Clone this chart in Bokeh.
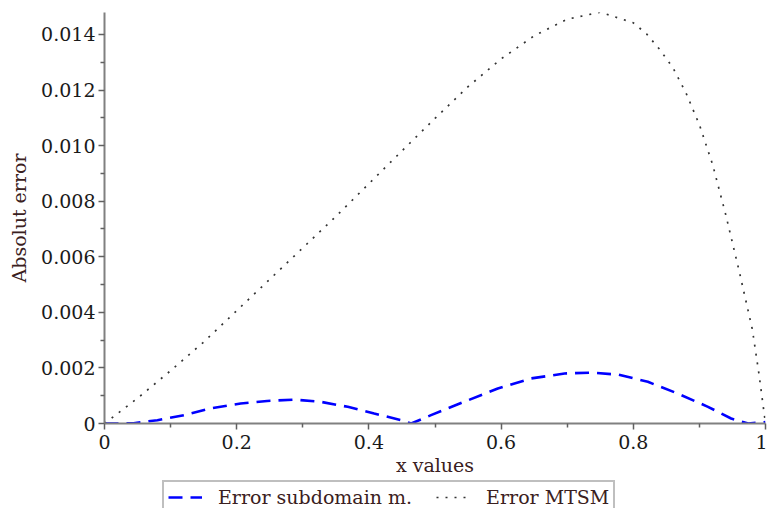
from bokeh.plotting import figure
from bokeh.layouts import column
from bokeh.models import Range1d, FixedTicker, Legend, LegendItem
from bokeh.embed import file_html
from bokeh.resources import INLINE

# ---- data ----
x_mtsm = [0, 0.05, 0.10, 0.15, 0.20, 0.25, 0.30, 0.35, 0.40, 0.45, 0.50, 0.55, 0.60,
          0.65, 0.70, 0.75, 0.80, 0.82, 0.84, 0.86, 0.88, 0.90, 0.92, 0.94, 0.96,
          0.98, 0.99, 1.00]
err_mtsm = [0, 0.00091, 0.00190, 0.00293, 0.00406, 0.00519, 0.00632, 0.00745, 0.00863,
            0.00981, 0.01098, 0.01212, 0.01312, 0.01395, 0.01455, 0.01480, 0.01442,
            0.01402, 0.01346, 0.01280, 0.01188, 0.01075, 0.00932, 0.00750, 0.00550,
            0.00340, 0.00180, 0]

x_sub = [0, 0.02, 0.044, 0.08, 0.12, 0.16, 0.206, 0.246, 0.287, 0.327, 0.368, 0.408,
         0.449, 0.464, 0.494, 0.544, 0.595, 0.645, 0.696, 0.736, 0.777, 0.822, 0.867,
         0.913, 0.948, 0.974, 1.0]
err_sub = [0, 0, 0.00001, 0.00012, 0.00030, 0.00054, 0.00072, 0.00081, 0.00086, 0.00078,
           0.00060, 0.00036, 0.00012, 0, 0.00030, 0.00078, 0.00126, 0.00162, 0.00180,
           0.00183, 0.00176, 0.00150, 0.00108, 0.00060, 0.00018, 0, 0.00005]

x_ticks = [0, 0.2, 0.4, 0.6, 0.8, 1.0]
x_tick_labels = ["0", "0.2", "0.4", "0.6", "0.8", "1"]
x_minor = [0.1, 0.3, 0.5, 0.7, 0.9]
y_ticks = [0, 0.002, 0.004, 0.006, 0.008, 0.010, 0.012, 0.014]
y_tick_labels = ["0", "0.002", "0.004", "0.006", "0.008", "0.010", "0.012", "0.014"]
y_minor = [0.001, 0.003, 0.005, 0.007, 0.009, 0.011, 0.013]

series_labels = ["Error subdomain m.", "Error MTSM"]

FONT = "DejaVu Serif"
FS = "19px"
SUB_STYLE = dict(line_color="#0000ff", line_width=2.6, line_dash="14 8")
MTSM_STYLE = dict(line_color="#333333", line_width=1.7, line_dash="2 7")

p = figure(width=767, height=480, output_backend="svg", toolbar_location=None,
           x_range=Range1d(0, 1), y_range=Range1d(0, 0.01479),
           min_border_left=104, min_border_right=2, min_border_top=12,
           min_border_bottom=57)
p.outline_line_color = None
p.grid.visible = False
p.background_fill_color = "white"
p.border_fill_color = "white"

p.line(x_sub, err_sub, **SUB_STYLE)
p.line(x_mtsm, err_mtsm, **MTSM_STYLE)

for ax, ticks, labels, minor in ((p.xaxis[0], x_ticks, x_tick_labels, x_minor),
                                 (p.yaxis[0], y_ticks, y_tick_labels, y_minor)):
    ax.ticker = FixedTicker(ticks=ticks, minor_ticks=minor)
    ax.major_label_overrides = {t: l for t, l in zip(ticks, labels)}
    ax.axis_line_color = "#808080"
    ax.axis_line_width = 2
    ax.major_tick_line_color = "#606060"
    ax.minor_tick_line_color = "#606060"
    ax.major_tick_line_width = 1.5
    ax.minor_tick_line_width = 1.5
    ax.major_tick_in = 0
    ax.major_tick_out = 6
    ax.minor_tick_in = 0
    ax.minor_tick_out = 4
    ax.major_label_text_font = FONT
    ax.major_label_text_font_size = FS
    ax.major_label_text_color = "#1a1a1a"
    ax.axis_label_text_font = FONT
    ax.axis_label_text_font_size = FS
    ax.axis_label_text_font_style = "normal"
    ax.axis_label_text_color = "#3a2020"

p.xaxis.major_label_standoff = 5
p.xaxis.axis_label = "x values"
p.xaxis.axis_label_standoff = 2
p.yaxis.major_label_standoff = 3
p.yaxis.axis_label = "Absolut error"
p.yaxis.axis_label_standoff = 8

# legend strip below the plot (its frame is aligned with the main frame);
# the series are drawn there out of view so the legend can show their styles
lg = figure(width=767, height=28, output_backend="svg", toolbar_location=None,
            x_range=Range1d(0, 1), y_range=Range1d(1, 2),
            min_border=0, min_border_left=104, min_border_right=2,
            min_border_top=0, min_border_bottom=0)
lg.outline_line_color = None
lg.grid.visible = False
lg.axis.visible = False
lg.background_fill_color = "white"
lg.border_fill_color = "white"
l_sub = lg.line(x_sub, err_sub, **SUB_STYLE)
l_mtsm = lg.line(x_mtsm, err_mtsm, **MTSM_STYLE)

legend = Legend(items=[LegendItem(label=series_labels[0], renderers=[l_sub]),
                       LegendItem(label=series_labels[1], renderers=[l_mtsm])],
                orientation="horizontal", location=(58, -6))
legend.label_text_font = FONT
legend.label_text_font_size = FS
legend.label_text_color = "#3a2020"
legend.border_line_color = "#808080"
legend.border_line_width = 2
legend.background_fill_color = "white"
legend.background_fill_alpha = 1
legend.glyph_width = 34
legend.glyph_height = 18
legend.label_standoff = 16
legend.label_height = 18
legend.spacing = 24
legend.padding = 4
legend.margin = 0
lg.add_layout(legend, "center")

layout = column(p, lg, spacing=0)
open("out.html", "w").write(file_html(layout, INLINE))
